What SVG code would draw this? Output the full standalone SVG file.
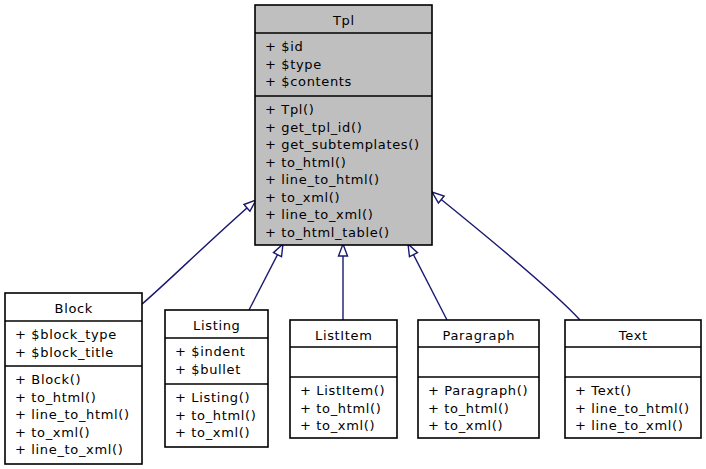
<svg xmlns="http://www.w3.org/2000/svg" width="706" height="469" viewBox="0 0 706 469">
<style>
text{font-family:"DejaVu Sans",sans-serif;font-size:13px;letter-spacing:0.65px;fill:#000}
.t{text-anchor:middle}
.box{stroke:#000;stroke-width:1.6;fill:#fff}
.base{fill:#bfbfbf}
.sep{stroke:#000;stroke-width:1.6}
.edge{fill:none;stroke:#191970;stroke-width:1.4}
</style>
<defs>
<marker id="tri" markerUnits="userSpaceOnUse" markerWidth="16" markerHeight="12" refX="13" refY="6" orient="auto" viewBox="0 0 16 12">
<path d="M1,1.5 L13,6 L1,10.5 Z" fill="#fff" stroke="#191970" stroke-width="1.4"/>
</marker>
</defs>
<rect width="706" height="469" fill="#fff"/>
<g id="edges">
<path class="edge" d="M141,305 C170,280 210,240 256,200" marker-end="url(#tri)"/>
<path class="edge" d="M249,310 L283,244" marker-end="url(#tri)"/>
<path class="edge" d="M343,320 L343,244" marker-end="url(#tri)"/>
<path class="edge" d="M447,320 L408,244" marker-end="url(#tri)"/>
<path class="edge" d="M580,320 C560,298 510,255 432,192" marker-end="url(#tri)"/>
</g>
<g id="Tpl">
<rect class="box base" x="255" y="5" width="177" height="240"/>
<line class="sep" x1="255" y1="33" x2="432" y2="33"/>
<line class="sep" x1="255" y1="96" x2="432" y2="96"/>
<text class="t" x="343.8" y="25">Tpl</text>
<text x="265" y="51">+ $id</text>
<text x="265" y="68.5">+ $type</text>
<text x="265" y="86">+ $contents</text>
<text x="265" y="114">+ Tpl()</text>
<text x="265" y="131.5">+ get_tpl_id()</text>
<text x="265" y="149">+ get_subtemplates()</text>
<text x="265" y="166.5">+ to_html()</text>
<text x="265" y="184">+ line_to_html()</text>
<text x="265" y="201.5">+ to_xml()</text>
<text x="265" y="219">+ line_to_xml()</text>
<text x="265" y="236.5">+ to_html_table()</text>
</g>
<g id="Block">
<rect class="box" x="5" y="293" width="137" height="171"/>
<line class="sep" x1="5" y1="321" x2="142" y2="321"/>
<line class="sep" x1="5" y1="366" x2="142" y2="366"/>
<text class="t" x="73.8" y="313">Block</text>
<text x="15" y="339">+ $block_type</text>
<text x="15" y="356.5">+ $block_title</text>
<text x="15" y="384">+ Block()</text>
<text x="15" y="401.5">+ to_html()</text>
<text x="15" y="419">+ line_to_html()</text>
<text x="15" y="436.5">+ to_xml()</text>
<text x="15" y="454">+ line_to_xml()</text>
</g>
<g id="Listing">
<rect class="box" x="165" y="310" width="103" height="137"/>
<line class="sep" x1="165" y1="338" x2="268" y2="338"/>
<line class="sep" x1="165" y1="384" x2="268" y2="384"/>
<text class="t" x="216.8" y="330">Listing</text>
<text x="175" y="356">+ $indent</text>
<text x="175" y="373.5">+ $bullet</text>
<text x="175" y="402">+ Listing()</text>
<text x="175" y="419.5">+ to_html()</text>
<text x="175" y="437">+ to_xml()</text>
</g>
<g id="ListItem">
<rect class="box" x="290" y="320" width="107" height="118"/>
<line class="sep" x1="290" y1="347" x2="397" y2="347"/>
<line class="sep" x1="290" y1="377" x2="397" y2="377"/>
<text class="t" x="343.8" y="340">ListItem</text>
<text x="300" y="395">+ ListItem()</text>
<text x="300" y="412.5">+ to_html()</text>
<text x="300" y="430">+ to_xml()</text>
</g>
<g id="Paragraph">
<rect class="box" x="418" y="320" width="121" height="118"/>
<line class="sep" x1="418" y1="347" x2="539" y2="347"/>
<line class="sep" x1="418" y1="377" x2="539" y2="377"/>
<text class="t" x="478.8" y="340">Paragraph</text>
<text x="428" y="395">+ Paragraph()</text>
<text x="428" y="412.5">+ to_html()</text>
<text x="428" y="430">+ to_xml()</text>
</g>
<g id="Text">
<rect class="box" x="565" y="320" width="136" height="118"/>
<line class="sep" x1="565" y1="347" x2="701" y2="347"/>
<line class="sep" x1="565" y1="377" x2="701" y2="377"/>
<text class="t" x="633.3" y="340">Text</text>
<text x="575" y="395">+ Text()</text>
<text x="575" y="412.5">+ line_to_html()</text>
<text x="575" y="430">+ line_to_xml()</text>
</g>
</svg>
